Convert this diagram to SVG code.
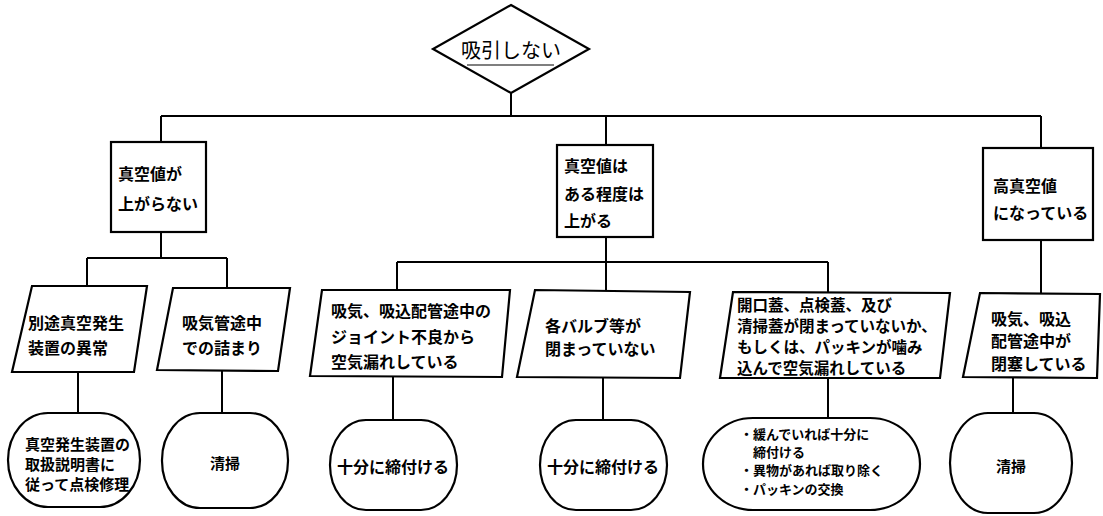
<svg xmlns="http://www.w3.org/2000/svg" width="1103" height="516" viewBox="0 0 1103 516">
<style>
.s{fill:#fff;stroke:#000;stroke-width:2.2;stroke-linejoin:miter}
.c line{stroke:#000;stroke-width:2}
text{font-family:"Noto Sans CJK JP","Noto Sans",sans-serif;font-weight:700;fill:#000;dominant-baseline:central}
.t16{font-size:16px}
.t15{font-size:15px}
.t13{font-size:13px}
.mid{text-anchor:middle}
</style>
<rect width="1103" height="516" fill="#fff"/>
<g id="connectors" class="c">
<line x1="511" y1="93" x2="511" y2="116"/>
<line x1="161" y1="116" x2="1041" y2="116"/>
<line x1="161" y1="116" x2="161" y2="142"/>
<line x1="606" y1="116" x2="606" y2="145"/>
<line x1="1041" y1="116" x2="1041" y2="148"/>
<line x1="161" y1="232" x2="161" y2="258"/>
<line x1="87" y1="258" x2="227" y2="258"/>
<line x1="87" y1="258" x2="87" y2="286"/>
<line x1="227" y1="258" x2="227" y2="288"/>
<line x1="606" y1="237" x2="606" y2="290"/>
<line x1="397" y1="262" x2="828" y2="262"/>
<line x1="397" y1="262" x2="397" y2="290"/>
<line x1="828" y1="262" x2="828" y2="293"/>
<line x1="1041" y1="240" x2="1041" y2="293"/>
<line x1="78" y1="372" x2="78" y2="413"/>
<line x1="222" y1="370" x2="222" y2="413"/>
<line x1="393" y1="377" x2="393" y2="420"/>
<line x1="603" y1="378" x2="603" y2="420"/>
<line x1="828" y1="378" x2="828" y2="418"/>
<line x1="1013" y1="378" x2="1013" y2="413"/>
</g>
<g id="n0">
<polygon class="s" points="511,5 589,49 511,93 433,49"/>
<line x1="467" y1="65" x2="554" y2="65" stroke="#000" stroke-width="1.2"/>
<text class="mid" x="511" y="49" style="font-size:20px;font-weight:400">吸引しない</text>
</g>
<g id="b1">
<rect class="s" x="111" y="142" width="95" height="90"/>
<text class="t16" x="118" y="173">真空値が</text>
<text class="t16" x="118" y="203">上がらない</text>
</g>
<g id="b2">
<rect class="s" x="557" y="145" width="96" height="92"/>
<text class="t16" x="564" y="165">真空値は</text>
<text class="t16" x="564" y="193">ある程度は</text>
<text class="t16" x="564" y="220">上がる</text>
</g>
<g id="b3">
<rect class="s" x="983" y="148" width="110" height="92"/>
<text class="t16" x="993" y="185">高真空値</text>
<text class="t16" x="993" y="212">になっている</text>
</g>
<g id="p1">
<polygon class="s" points="32,286 147,286 134,372 12,372"/>
<text class="t16" x="28" y="322">別途真空発生</text>
<text class="t16" x="28" y="347">装置の異常</text>
</g>
<g id="p2">
<polygon class="s" points="173,288 290,288 278,371 157,370"/>
<text class="t16" x="182" y="322">吸気管途中</text>
<text class="t16" x="182" y="347">での詰まり</text>
</g>
<g id="p3">
<polygon class="s" points="322,290 510,290 502,377 310,376"/>
<text class="t16" x="331" y="310">吸気、吸込配管途中の</text>
<text class="t16" x="331" y="336">ジョイント不良から</text>
<text class="t16" x="331" y="361">空気漏れしている</text>
</g>
<g id="p4">
<polygon class="s" points="535,290 690,292 680,378 517,377"/>
<text class="t16" x="545" y="325">各バルブ等が</text>
<text class="t16" x="545" y="348">閉まっていない</text>
</g>
<g id="p5">
<polygon class="s" points="733,292 950,293 940,378 720,378"/>
<text class="t16" x="737" y="304" style="font-size:15.5px">開口蓋、点検蓋、及び</text>
<text class="t16" x="737" y="325" style="font-size:15.5px">清掃蓋が閉まっていないか、</text>
<text class="t16" x="737" y="346" style="font-size:15.5px">もしくは、パッキンが噛み</text>
<text class="t16" x="737" y="367" style="font-size:15.5px">込んで空気漏れしている</text>
</g>
<g id="p6">
<polygon class="s" points="980,293 1100,294 1097,378 963,377"/>
<text class="t16" x="991" y="318">吸気、吸込</text>
<text class="t16" x="991" y="340">配管途中が</text>
<text class="t16" x="991" y="363">閉塞している</text>
</g>
<g id="o1">
<rect class="s" x="8" y="413" width="132" height="94" rx="40" ry="47"/>
<text class="t15" x="25" y="443">真空発生装置の</text>
<text class="t15" x="25" y="463">取扱説明書に</text>
<text class="t15" x="25" y="483">従って点検修理</text>
</g>
<g id="o2">
<rect class="s" x="162" y="413" width="126" height="95" rx="38" ry="47"/>
<text class="t15 mid" x="225" y="462">清掃</text>
</g>
<g id="o3">
<rect class="s" x="330" y="420" width="127" height="90" rx="36" ry="45"/>
<text class="t16 mid" x="393" y="466">十分に締付ける</text>
</g>
<g id="o4">
<rect class="s" x="540" y="420" width="127" height="90" rx="36" ry="45"/>
<text class="t16 mid" x="603" y="466">十分に締付ける</text>
</g>
<g id="o5">
<rect class="s" x="703" y="418" width="217" height="92" rx="50" ry="46"/>
<text class="t13" x="740" y="433">・緩んでいれば十分に</text>
<text class="t13" x="753" y="451">締付ける</text>
<text class="t13" x="740" y="469">・異物があれば取り除く</text>
<text class="t13" x="740" y="488">・パッキンの交換</text>
</g>
<g id="o6">
<rect class="s" x="950" y="413" width="122" height="100" rx="38" ry="50"/>
<text class="t15 mid" x="1011" y="465">清掃</text>
</g>
</svg>
